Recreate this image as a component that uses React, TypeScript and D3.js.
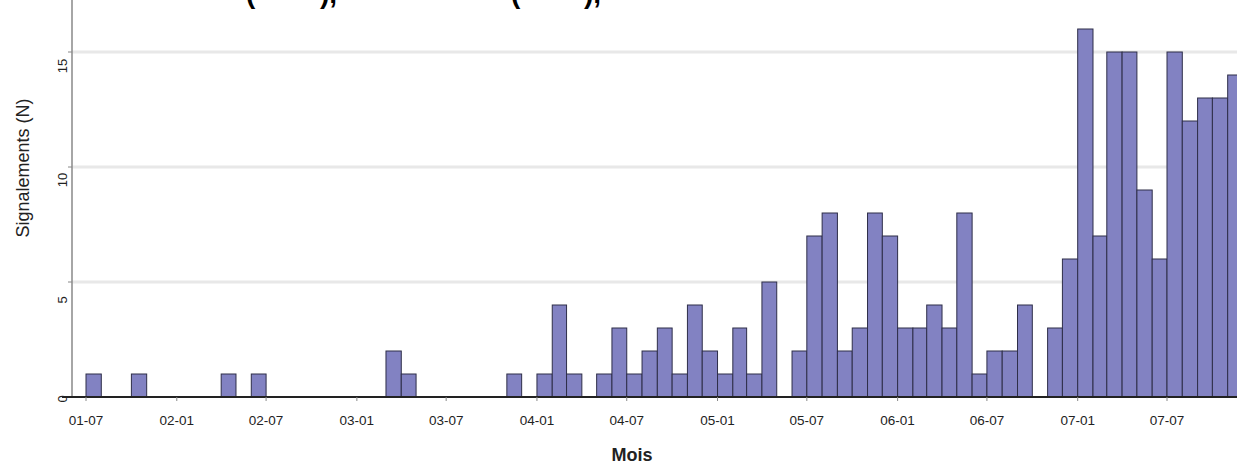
import React from "react";
import * as d3 from "d3";

const months: string[] = [
  "2001-07","2001-08","2001-09","2001-10","2001-11","2001-12",
  "2002-01","2002-02","2002-03","2002-04","2002-05","2002-06",
  "2002-07","2002-08","2002-09","2002-10","2002-11","2002-12",
  "2003-01","2003-02","2003-03","2003-04","2003-05","2003-06",
  "2003-07","2003-08","2003-09","2003-10","2003-11","2003-12",
  "2004-01","2004-02","2004-03","2004-04","2004-05","2004-06",
  "2004-07","2004-08","2004-09","2004-10","2004-11","2004-12",
  "2005-01","2005-02","2005-03","2005-04","2005-05","2005-06",
  "2005-07","2005-08","2005-09","2005-10","2005-11","2005-12",
  "2006-01","2006-02","2006-03","2006-04","2006-05","2006-06",
  "2006-07","2006-08","2006-09","2006-10","2006-11","2006-12",
  "2007-01","2007-02","2007-03","2007-04","2007-05","2007-06",
  "2007-07","2007-08","2007-09","2007-10","2007-11",
];
const counts: number[] = [
  1,0,0,1,0,0,
  0,0,0,1,0,1,
  0,0,0,0,0,0,
  0,0,2,1,0,0,
  0,0,0,0,1,0,
  1,4,1,0,1,3,
  1,2,3,1,4,2,
  1,3,1,5,0,2,
  7,8,2,3,8,7,
  3,3,4,3,8,1,
  2,2,4,0,3,6,
  16,7,15,15,9,6,
  15,12,13,13,14,
];
const xTickLabels: string[] = [
  "01-07","02-01","02-07","03-01","03-07","04-01","04-07",
  "05-01","05-07","06-01","06-07","07-01","07-07",
];
const yTicks: number[] = [0, 5, 10, 15];
const titleParts: string[] = ["(", "),", "(", "),"];

const W = 1237, H = 466;
const parse = d3.timeParse("%Y-%m");

export default function App() {
  const x = d3.scaleTime()
    .domain([parse("2001-07")!, parse("2007-07")!])
    .range([86, 1167]);
  const y = d3.scaleLinear().domain([0, 15]).range([397, 52]);
  const data = months.map((m, i) => ({ d: parse(m)!, v: counts[i] }));
  const tickDates = xTickLabels.map((l) => parse("20" + l)!);
  const titleX = [246, 320, 511, 584];
  const axisY = y(0);
  const yLabOff: Record<number, number> = { 0: 2, 5: 18, 10: 13, 15: 14 };

  return (
    <svg width={W} height={H} style={{ position: "absolute", left: 0, top: 0, background: "#fff" }}
      fontFamily="Liberation Sans, Arial, sans-serif">
      <rect x={0} y={0} width={W} height={H} fill="#fff" />
      {titleParts.map((t, i) => (
        <text key={"t" + i} x={titleX[i]} y={3} fontSize={28} fontWeight="bold" fill="#000">{t}</text>
      ))}
      {yTicks.filter((t) => t > 0).map((t) => (
        <line key={"g" + t} x1={72} x2={W} y1={y(t)} y2={y(t)} stroke="#e8e8e8" strokeWidth={3} />
      ))}
      {data.filter((r) => r.v > 0).map((r, i) => {
        const x0 = x(r.d);
        const x1 = x(d3.timeMonth.offset(r.d, 1));
        return (
          <rect key={"b" + i} x={x0} y={y(r.v)} width={x1 - x0} height={axisY - y(r.v)}
            fill="#8282c2" stroke="#2e2e48" strokeWidth={1} />
        );
      })}
      <line x1={72} x2={72} y1={0} y2={axisY} stroke="#888" strokeWidth={1.5} />
      {yTicks.map((t) => (
        <g key={"yt" + t}>
          <line x1={68} x2={72} y1={y(t)} y2={y(t)} stroke="#888" />
          <text transform={`translate(67,${y(t) + yLabOff[t]}) rotate(-90)`} textAnchor="middle"
            fontSize={13} fill="#222">{t}</text>
        </g>
      ))}
      <line x1={62} x2={W} y1={axisY} y2={axisY} stroke="#222" strokeWidth={2} />
      {tickDates.map((d, i) => (
        <g key={"xt" + i}>
          <line x1={x(d)} x2={x(d)} y1={axisY} y2={axisY + 4} stroke="#888" />
          <text x={x(d)} y={425} textAnchor="middle" fontSize={13.5} fill="#222">{xTickLabels[i]}</text>
        </g>
      ))}
      <text transform="translate(29,168) rotate(-90)" textAnchor="middle" fontSize={18} fill="#222">Signalements (N)</text>
      <text x={632} y={461} textAnchor="middle" fontSize={18} fontWeight="bold" fill="#222">Mois</text>
    </svg>
  );
}
